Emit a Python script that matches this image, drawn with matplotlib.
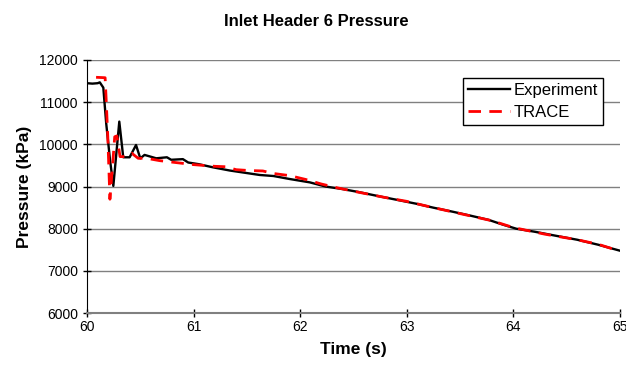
import matplotlib
matplotlib.use("Agg")
import matplotlib.pyplot as plt

plt.rcParams['font.family'] = ['Liberation Sans', 'DejaVu Sans']

exp_t = [60.00, 60.05, 60.10, 60.12, 60.153, 60.18, 60.216, 60.247, 60.303, 60.34, 60.40,
         60.46, 60.50, 60.54, 60.65, 60.75, 60.79, 60.90, 60.95, 61.05, 61.18, 61.34,
         61.50, 61.62, 61.75, 61.90, 62.09, 62.24, 62.40, 62.55, 62.76, 62.90, 63.10,
         63.25, 63.43, 63.60, 63.77, 63.90, 64.03, 64.20, 64.44, 64.60, 64.80, 65.00]
exp_p = [11450, 11440, 11450, 11470, 11345, 10500, 9630, 9015, 10540, 9694, 9694,
         9985, 9670, 9750, 9670, 9694, 9635, 9650, 9570, 9530, 9457, 9380,
         9320, 9275, 9250, 9180, 9100, 9000, 8940, 8870, 8760, 8690, 8588,
         8500, 8405, 8310, 8210, 8100, 8000, 7930, 7815, 7740, 7620, 7481]

trace_t = [60.085, 60.17, 60.18, 60.195, 60.215, 60.24, 60.26, 60.28, 60.31, 60.37, 60.42,
           60.48, 60.56, 60.68, 60.83, 61.00, 61.20, 61.30, 61.40, 61.52, 61.65, 61.75,
           61.90, 62.05, 62.20, 62.35, 62.50, 62.80, 63.00, 63.20, 63.50, 63.80, 64.00,
           64.30, 64.60, 64.80, 65.00]
trace_p = [11590, 11580, 11050, 10180, 8700, 9500, 10180, 10200, 9710, 9710, 9790,
           9670, 9670, 9615, 9570, 9520, 9480, 9470, 9400, 9380, 9370, 9310,
           9260, 9170, 9060, 8970, 8890, 8740, 8650, 8530, 8360, 8190, 8030,
           7870, 7740, 7630, 7470]

fig = plt.figure(figsize=(6.26, 3.75), dpi=100)
ax = fig.add_axes([0.139, 0.165, 0.851, 0.675])

ax.plot(exp_t, exp_p, color='black', lw=1.7, label='Experiment', zorder=3)
ax.plot(trace_t, trace_p, color='#ff0000', lw=2.0, dashes=(4.5, 3), label='TRACE', zorder=4)

ax.set_xlim(60, 65)
ax.set_ylim(6000, 12000)
ax.set_xticks([60, 61, 62, 63, 64, 65])
ax.set_yticks(range(6000, 12001, 1000))
ax.yaxis.grid(True, color='#808080', lw=1.0)
ax.set_axisbelow(True)
for s in ['top', 'right']:
    ax.spines[s].set_visible(False)
ax.spines['bottom'].set_color('#808080')
ax.spines['bottom'].set_linewidth(1.5)
ax.tick_params(axis='both', direction='inout', length=6, labelsize=10, width=1)
ax.tick_params(axis='x', pad=2)

ax.set_xlabel('Time (s)', fontsize=12.5, fontweight='bold', labelpad=6)
ax.set_ylabel('Pressure (kPa)', fontsize=12.5, fontweight='bold', labelpad=5)
fig.text(0.506, 0.944, 'Inlet Header 6 Pressure', ha='center', va='center',
         fontsize=12, fontweight='bold')

leg = ax.legend(loc='upper right', bbox_to_anchor=(0.968, 0.93), fontsize=12,
                frameon=True, fancybox=False, edgecolor='black', framealpha=1,
                handlelength=2.5, borderpad=0.3, labelspacing=0.45, handletextpad=0.2,
                borderaxespad=0)
leg.get_frame().set_linewidth(1.0)

fig.savefig('out.png', dpi=100)
